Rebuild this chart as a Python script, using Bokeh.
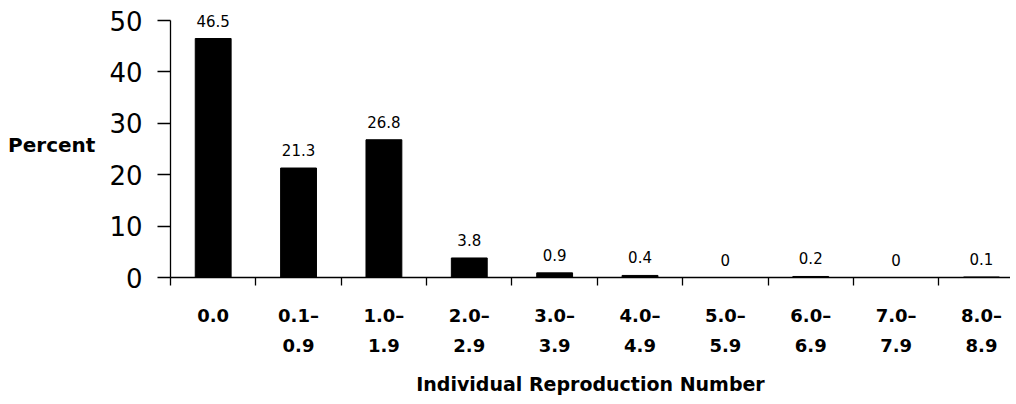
from bokeh.plotting import figure
from bokeh.models import Range1d, FixedTicker, LinearAxis, ColumnDataSource
from bokeh.core.properties import value
from bokeh.embed import file_html
from bokeh.resources import INLINE

# ---- data ----
range_line1 = ["0.0", "0.1–", "1.0–", "2.0–", "3.0–", "4.0–", "5.0–", "6.0–", "7.0–", "8.0–"]
range_line2 = ["", "0.9", "1.9", "2.9", "3.9", "4.9", "5.9", "6.9", "7.9", "8.9"]
percent = [46.5, 21.3, 26.8, 3.8, 0.9, 0.4, 0, 0.2, 0, 0.1]
percent_labels = ["46.5", "21.3", "26.8", "3.8", "0.9", "0.4", "0", "0.2", "0", "0.1"]
y_ticks = [0, 10, 20, 30, 40, 50]
x_title = "Individual Reproduction Number"
y_title = "Percent"

n = len(percent)
pos = list(range(n))
boundaries = [i - 0.5 for i in range(n)]

src = ColumnDataSource(dict(x=pos, top=percent, lab=percent_labels))

p = figure(frame_width=840, frame_height=265,
           x_range=Range1d(-0.5, 9.34), y_range=Range1d(0, 51.56),
           output_backend="svg", toolbar_location=None,
           x_axis_type=None, y_axis_type=None,
           min_border_left=170, min_border_right=0,
           min_border_top=12, min_border_bottom=0)
p.outline_line_color = None
p.background_fill_color = "white"
p.border_fill_color = "white"

p.vbar(x="x", top="top", bottom=0, width=0.42, source=src,
       fill_color="black", line_color="black")
p.text(x="x", y="top", text="lab", source=src, text_align="center",
       text_baseline="alphabetic", y_offset=-18,
       text_font=value("DejaVu Sans"), text_font_size="15px", text_color="black")

# y axis
yax = LinearAxis(ticker=FixedTicker(ticks=y_ticks), bounds=(0, 50))
yax.axis_line_color = "black"
yax.axis_line_width = 1.3
yax.major_tick_line_color = "black"
yax.major_tick_line_width = 1.3
yax.major_tick_out = 13
yax.major_tick_in = 0
yax.minor_tick_out = 0
yax.minor_tick_in = 0
yax.major_label_text_font = "DejaVu Sans"
yax.major_label_text_font_size = "26px"
yax.major_label_text_color = "black"
yax.major_label_standoff = 15
yax.axis_label = y_title
yax.axis_label_orientation = "horizontal"
yax.axis_label_text_font = "DejaVu Sans"
yax.axis_label_text_font_style = "bold"
yax.axis_label_text_font_size = "20px"
yax.axis_label_text_color = "black"
yax.axis_label_standoff = 11
p.add_layout(yax, "left")

# x axis, first line of labels + boundary ticks
xa = LinearAxis(ticker=FixedTicker(ticks=pos, minor_ticks=boundaries))
xa.axis_line_color = "black"
xa.axis_line_width = 1.3
xa.major_tick_out = 0
xa.major_tick_in = 0
xa.major_tick_line_color = None
xa.minor_tick_out = 8
xa.minor_tick_in = 0
xa.minor_tick_line_color = "black"
xa.minor_tick_line_width = 1.3
xa.major_label_overrides = {i: s for i, s in enumerate(range_line1)}
xa.major_label_text_font = "DejaVu Sans"
xa.major_label_text_font_style = "bold"
xa.major_label_text_font_size = "18px"
xa.major_label_text_color = "black"
xa.major_label_standoff = 19
p.add_layout(xa, "below")

# x axis, second line of labels + title
xb = LinearAxis(ticker=FixedTicker(ticks=pos, minor_ticks=[]))
xb.axis_line_color = None
xb.major_tick_line_color = None
xb.minor_tick_line_color = None
xb.major_tick_out = 0
xb.major_tick_in = 0
xb.minor_tick_out = 0
xb.minor_tick_in = 0
xb.major_label_overrides = {i: s for i, s in enumerate(range_line2)}
xb.major_label_text_font = "DejaVu Sans"
xb.major_label_text_font_style = "bold"
xb.major_label_text_font_size = "18px"
xb.major_label_text_color = "black"
xb.major_label_standoff = 10
xb.axis_label = x_title
xb.axis_label_text_font = "DejaVu Sans"
xb.axis_label_text_font_style = "bold"
xb.axis_label_text_font_size = "19px"
xb.axis_label_text_color = "black"
xb.axis_label_standoff = 18
p.add_layout(xb, "below")

open("out.html", "w").write(file_html(p, INLINE))
